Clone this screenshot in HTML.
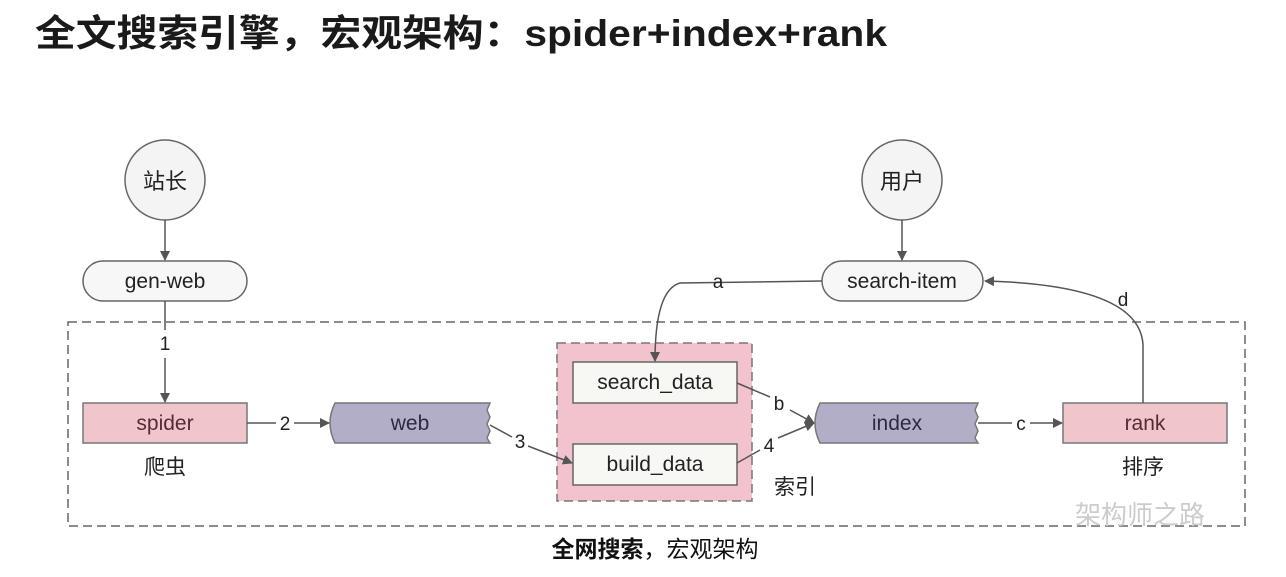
<!DOCTYPE html>
<html><head><meta charset="utf-8"><style>
body{margin:0;background:#fff;width:1286px;height:577px;overflow:hidden}
svg{display:block}
text{font-family:"Liberation Sans","Noto Sans CJK SC",sans-serif}
</style></head><body>
<svg width="1286" height="577" viewBox="0 0 1286 577">
<defs>
<marker id="ar" markerWidth="10" markerHeight="10" refX="9" refY="5" orient="auto" markerUnits="userSpaceOnUse">
<path d="M0,0 L10,5 L0,10 z" fill="#555"/></marker>
</defs>
<text x="35" y="46" font-size="37" font-weight="bold" fill="#1a1a1a" textLength="852" lengthAdjust="spacingAndGlyphs">全文搜索引擎，宏观架构：spider+index+rank</text>

<rect x="68" y="322" width="1177" height="204" fill="none" stroke="#666" stroke-width="1.5" stroke-dasharray="9,5"/>
<rect x="557" y="343" width="195" height="158" fill="#f2c3cc" stroke="#777" stroke-width="1.5" stroke-dasharray="9,5"/>

<circle cx="165" cy="180" r="40" fill="#f4f4f4" stroke="#666" stroke-width="1.5"/>
<text x="165" y="189" font-size="22" text-anchor="middle" fill="#222">站长</text>
<circle cx="902" cy="180" r="40" fill="#f4f4f4" stroke="#666" stroke-width="1.5"/>
<text x="902" y="189" font-size="22" text-anchor="middle" fill="#222">用户</text>

<rect x="83" y="261" width="164" height="40" rx="20" fill="#f7f7f7" stroke="#666" stroke-width="1.5"/>
<text x="165" y="288" font-size="21" text-anchor="middle" fill="#222">gen-web</text>
<rect x="822" y="261" width="161" height="40" rx="20" fill="#f7f7f7" stroke="#666" stroke-width="1.5"/>
<text x="902" y="288" font-size="21" text-anchor="middle" fill="#222">search-item</text>

<rect x="83" y="403" width="164" height="40" fill="#f0c5cc" stroke="#777" stroke-width="1.5"/>
<text x="165" y="430" font-size="21" text-anchor="middle" fill="#5a2a33">spider</text>
<path d="M335,403 L490,403 L487,410 L490,417 L487,424 L490,431 L487,438 L490,443 L335,443 Q325,423 335,403 z" fill="#b3aec8" stroke="#777" stroke-width="1.5"/>
<text x="410" y="430" font-size="21" text-anchor="middle" fill="#2c2846">web</text>
<path d="M820,403 L978,403 L975,410 L978,417 L975,424 L978,431 L975,438 L978,443 L820,443 Q810,423 820,403 z" fill="#b3aec8" stroke="#777" stroke-width="1.5"/>
<text x="897" y="430" font-size="21" text-anchor="middle" fill="#2c2846">index</text>
<rect x="1063" y="403" width="164" height="40" fill="#f0c5cc" stroke="#777" stroke-width="1.5"/>
<text x="1145" y="430" font-size="21" text-anchor="middle" fill="#5a2a33">rank</text>

<rect x="573" y="362" width="164" height="41" fill="#f7f7f4" stroke="#666" stroke-width="1.5"/>
<text x="655" y="389" font-size="21" text-anchor="middle" fill="#222">search_data</text>
<rect x="573" y="444" width="164" height="41" fill="#f7f7f4" stroke="#666" stroke-width="1.5"/>
<text x="655" y="471" font-size="21" text-anchor="middle" fill="#222">build_data</text>

<text x="165" y="474" font-size="21" text-anchor="middle" fill="#222">爬虫</text>
<text x="795" y="494" font-size="21" text-anchor="middle" fill="#222">索引</text>
<text x="1143" y="474" font-size="21" text-anchor="middle" fill="#222">排序</text>

<g stroke="#555" stroke-width="1.5" fill="none">
<line x1="165" y1="220" x2="165" y2="260" marker-end="url(#ar)"/>
<line x1="902" y1="220" x2="902" y2="260" marker-end="url(#ar)"/>
<line x1="165" y1="301" x2="165" y2="330"/>
<line x1="165" y1="358" x2="165" y2="402" marker-end="url(#ar)"/>
<line x1="247" y1="423" x2="276" y2="423"/>
<line x1="294" y1="423" x2="329" y2="423" marker-end="url(#ar)"/>
<line x1="490" y1="425" x2="512" y2="437"/>
<line x1="528" y1="446" x2="572" y2="463" marker-end="url(#ar)"/>
<line x1="737" y1="383" x2="770" y2="397"/>
<line x1="790" y1="410" x2="814" y2="423" marker-end="url(#ar)"/>
<line x1="737" y1="463" x2="760" y2="450"/>
<line x1="778" y1="438" x2="814" y2="423" marker-end="url(#ar)"/>
<line x1="978" y1="423" x2="1012" y2="423"/>
<line x1="1030" y1="423" x2="1062" y2="423" marker-end="url(#ar)"/>
<path d="M1143,403 L1143,345 Q1140,285 985,281" marker-end="url(#ar)"/>
<path d="M822,281 L680,283 Q655,290 655,361" marker-end="url(#ar)"/>
</g>
<g font-size="19" fill="#222" text-anchor="middle">
<text x="165" y="350">1</text>
<text x="285" y="430">2</text>
<text x="520" y="448">3</text>
<text x="779" y="410">b</text>
<text x="769" y="452">4</text>
<text x="1021" y="430">c</text>
<text x="718" y="288">a</text>
<text x="1123" y="306">d</text>
</g>
<text x="1075" y="524" font-size="26" fill="#ccc">架构师之路</text>
<text x="655" y="557" font-size="23" text-anchor="middle" fill="#111"><tspan font-weight="bold">全网搜索</tspan>，宏观架构</text>
</svg>
</body></html>
